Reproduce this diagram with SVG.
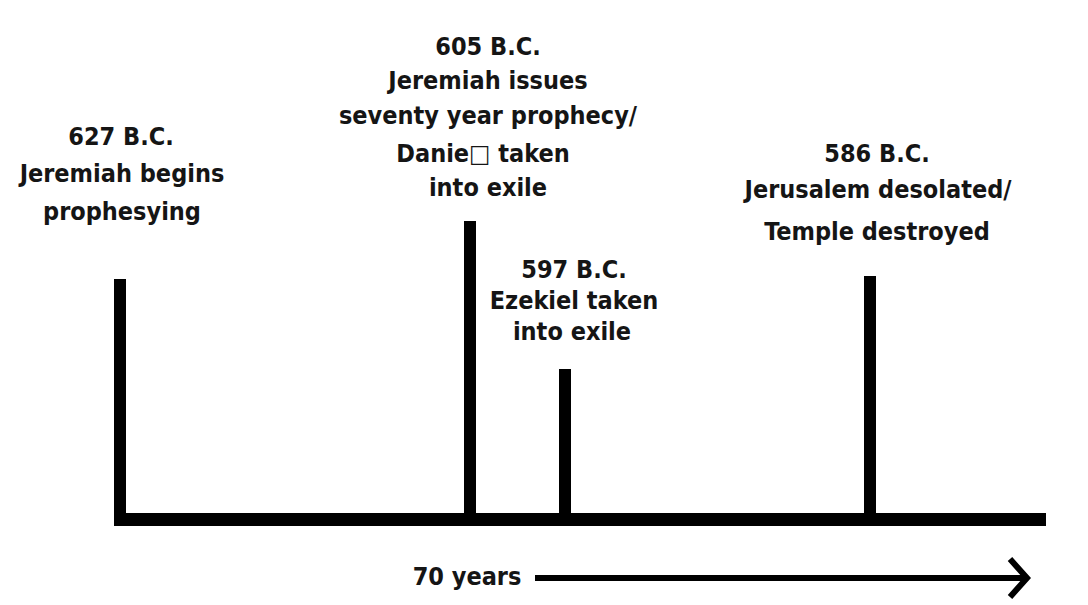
<svg xmlns="http://www.w3.org/2000/svg" width="1088" height="605" viewBox="0 0 1088 605">
<style>
text{font-family:"DejaVu Sans Condensed","DejaVu Sans",sans-serif;font-weight:bold;font-size:25px;fill:#151515;text-anchor:middle}
.bar{fill:#000}
</style>
<defs>
<marker id="chev" viewBox="0 0 24 44" refX="21" refY="22" markerWidth="24" markerHeight="44" markerUnits="userSpaceOnUse" orient="auto">
<path d="M3,3 L20,22 L3,41" fill="none" stroke="#000" stroke-width="6"/>
</marker>
</defs>
<rect width="1088" height="605" fill="#fff"/>
<g id="connectors">
<rect class="bar" x="114" y="513" width="932" height="13"/>
<rect class="bar" x="114" y="279" width="12" height="240"/>
<rect class="bar" x="464" y="221" width="12" height="298"/>
<rect class="bar" x="559" y="369" width="12" height="150"/>
<rect class="bar" x="864" y="276" width="12" height="243"/>
<line x1="535" y1="578" x2="1028" y2="578" stroke="#000" stroke-width="6" marker-end="url(#chev)"/>
</g>
<g id="n627">
<text x="121" y="145">627 B.C.</text>
<text x="122" y="182">Jeremiah begins</text>
<text x="122" y="220">prophesying</text>
</g>
<g id="n605">
<text x="488" y="55">605 B.C.</text>
<text x="488" y="89">Jeremiah issues</text>
<text x="488" y="124">seventy year prophecy/</text>
<text x="483" y="162">Danie□ taken</text>
<text x="488" y="196">into exile</text>
</g>
<g id="n597">
<text x="574" y="278">597 B.C.</text>
<text x="574" y="309">Ezekiel taken</text>
<text x="572" y="340">into exile</text>
</g>
<g id="n586">
<text x="877" y="162">586 B.C.</text>
<text x="878" y="198">Jerusalem desolated/</text>
<text x="877" y="240">Temple destroyed</text>
</g>
<g id="label70">
<text x="467" y="585">70 years</text>
</g>
</svg>
